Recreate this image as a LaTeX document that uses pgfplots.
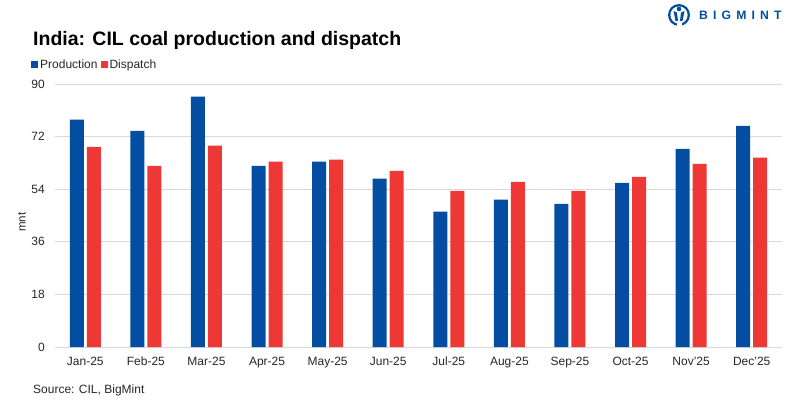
\documentclass[border=0pt]{standalone}
\usepackage{fontspec}
\setmainfont{Liberation Sans}
\usepackage{pgfplots}
\usepackage{pgfplotstable}
\pgfplotsset{compat=1.18}

\definecolor{prodblue}{HTML}{034EA2}
\definecolor{dispred}{HTML}{EE3835}
\definecolor{gridgray}{HTML}{D9D9D9}
\definecolor{txt}{HTML}{262626}

% CIL monthly coal production and dispatch, mnt
\pgfplotstableread{
idx prod disp
0  77.8 68.5
1  74.0 62.0
2  85.7 68.9
3  62.0 63.4
4  63.4 64.1
5  57.6 60.3
6  46.3 53.4
7  50.4 56.5
8  49.0 53.4
9  56.2 58.2
10 67.8 62.7
11 75.7 64.8
}\coal

\begin{document}
\begin{tikzpicture}[x=1pt,y=1pt]
\useasboundingbox (0,0) rectangle (800,400);

\begin{axis}[
  at={(55pt,53pt)}, anchor=south west, scale only axis,
  width=727pt, height=263pt,
  xmin=-0.5, xmax=11.5, ymin=0, ymax=90,
  ybar=3pt, bar width=14pt,
  xtick={0,...,11},
  xticklabels={Jan-25,Feb-25,Mar-25,Apr-25,May-25,Jun-25,Jul-25,Aug-25,Sep-25,Oct-25,Nov'25,Dec'25},
  ytick={0,18,...,90},
  ymajorgrids, grid style={gridgray, line width=0.8pt},
  axis line style={draw=none},
  major tick length=0pt,
  tick label style={font=\fontsize{12}{14}\selectfont, text=txt},
  /pgf/number format/assume math mode=true,
  xticklabel style={anchor=base, inner sep=0pt, yshift=-18.7pt},
  yticklabel style={anchor=east, inner sep=0pt, xshift=-10pt},
  ylabel={mnt},
  ylabel style={at={(axis description cs:-0.0454,0.475)}, anchor=center,
    font=\fontsize{11.5}{14}\selectfont, text=txt},
  legend columns=2,
  legend style={at={(axis description cs:0,1)}, anchor=south west,
    xshift=-27pt, yshift=10pt, draw=none, fill=none,
    font=\fontsize{12}{14}\selectfont, text=txt,
    /tikz/every even column/.append style={column sep=1pt}},
]
\addplot[fill=prodblue, draw=none,
  legend image code/.code={\fill[prodblue] (0pt,-3.3pt) rectangle (7pt,3.5pt);}]
  table[x=idx, y=prod] {\coal};
\addlegendentry{Production}
\addplot[fill=dispred, draw=none,
  legend image code/.code={\fill[dispred] (0pt,-3.3pt) rectangle (7pt,3.5pt);}]
  table[x=idx, y=disp] {\coal};
\addlegendentry{Dispatch}
\end{axis}

\node[anchor=base west, inner sep=0pt, font=\bfseries\fontsize{19.5}{22}\selectfont]
  at (33,354) {India: CIL coal production and dispatch};
\node[anchor=base west, inner sep=0pt, font=\fontsize{12}{14}\selectfont, text=txt]
  at (33,7) {Source: CIL, BigMint};

% BigMint logo
\fill[prodblue] (679,385) circle (11);
\fill[white] (679,385) circle (8.6);
\fill[prodblue] (679,391) circle (2.3);
\fill[prodblue] (673.5,389) -- (677,387.5) -- (678,379) -- (675.5,379) -- cycle;
\fill[prodblue] (684.5,389) -- (681,387.5) -- (680,379) -- (682.5,379) -- cycle;
\fill[white] (676.5,374) rectangle (681.5,377.5);
\node[anchor=west, inner sep=0pt, text=prodblue,
  font=\bfseries\fontsize{12.2}{14}\selectfont]
  at (699,385) {\addfontfeature{LetterSpace=42}BIGMINT};
\end{tikzpicture}
\end{document}
